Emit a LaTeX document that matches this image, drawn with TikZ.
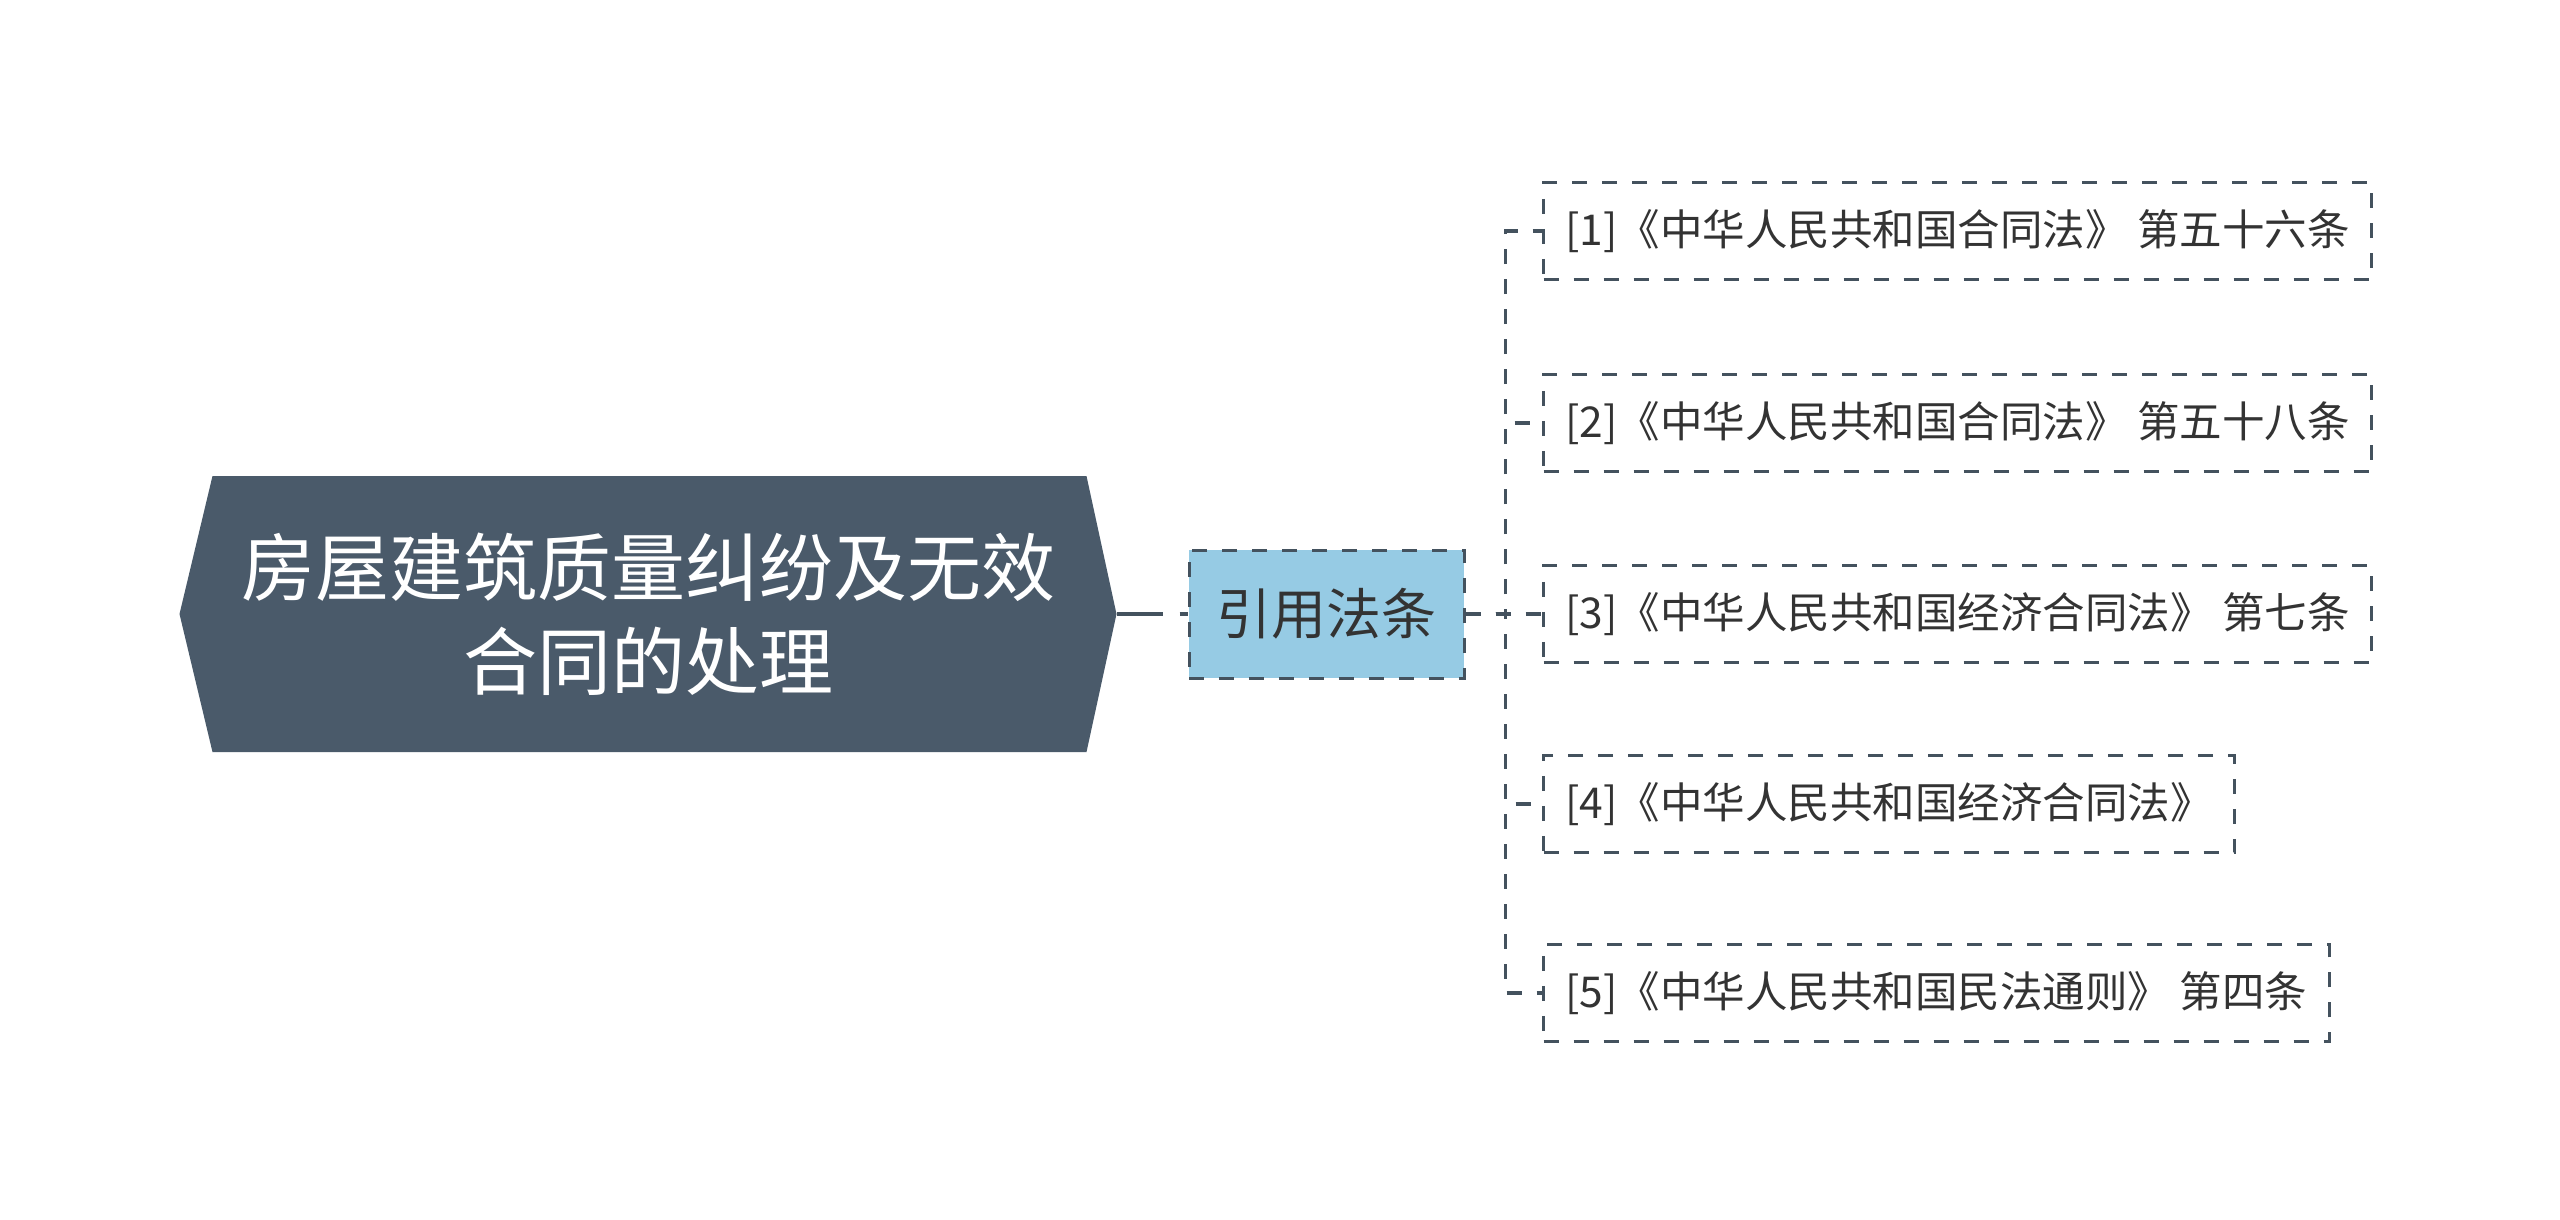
\documentclass[tikz,border=0pt]{standalone}
\usepackage{fontspec}
\setmainfont{Noto Sans CJK SC}
\usetikzlibrary{positioning}
\definecolor{rootgray}{HTML}{4A5A6A}
\definecolor{subblue}{HTML}{96CBE4}
\definecolor{linegray}{HTML}{44525E}
\definecolor{textgray}{HTML}{333333}
\tikzset{
  rootbox/.style={minimum width=937pt, minimum height=276pt, inner sep=0pt,
    align=center, text=white, font=\fontsize{74}{94}\selectfont,
    path picture={\fill[rootgray] (path picture bounding box.west)
      -- ([xshift=33pt]path picture bounding box.north west)
      -- ([xshift=-30pt]path picture bounding box.north east)
      -- (path picture bounding box.east)
      -- ([xshift=-30pt]path picture bounding box.south east)
      -- ([xshift=33pt]path picture bounding box.south west) -- cycle;}},
  subbox/.style={fill=subblue, draw=linegray, line width=3pt,
    dash pattern=on 15pt off 15pt, minimum width=275pt, minimum height=128pt,
    text=textgray, font=\fontsize{55}{66}\selectfont},
  leafbox/.style={draw=linegray, line width=3pt, dash pattern=on 15pt off 15pt,
    minimum height=97pt, inner xsep=22pt, anchor=west,
    text=textgray, font=\fontsize{42.5}{50}\selectfont},
  link/.style={draw=linegray, line width=3.5pt, dash pattern=on 15pt off 15pt},
  rootlink/.style={draw=linegray, line width=4.5pt, dash pattern=on 46pt off 17pt}
}
\begin{document}
\begin{tikzpicture}[x=1pt,y=-1pt]
  \useasboundingbox (0,0) rectangle (2560,1219);
  % Root and sub topic
  \node[rootbox] (root) at (648,614) {房屋建筑质量纠纷及无效\\合同的处理};
  \node[subbox, right=71pt of root] (sub) {引用法条};
  \draw[rootlink] (root.east) -- (sub.west);
  \coordinate[right=40pt of sub] (fork);
  % Cited laws
  \foreach \i/\yy/\txt in {1/231/{[1]《中华人民共和国合同法》 第五十六条},
                           2/423/{[2]《中华人民共和国合同法》 第五十八条},
                           3/614/{[3]《中华人民共和国经济合同法》 第七条},
                           4/804/{[4]《中华人民共和国经济合同法》},
                           5/993/{[5]《中华人民共和国民法通则》 第四条}} {
    \node[leafbox] (leaf\i) at (1542,\yy) {\txt};
    \draw[link] (sub.east) -- (fork) |- (leaf\i.west);
  }
\end{tikzpicture}
\end{document}
